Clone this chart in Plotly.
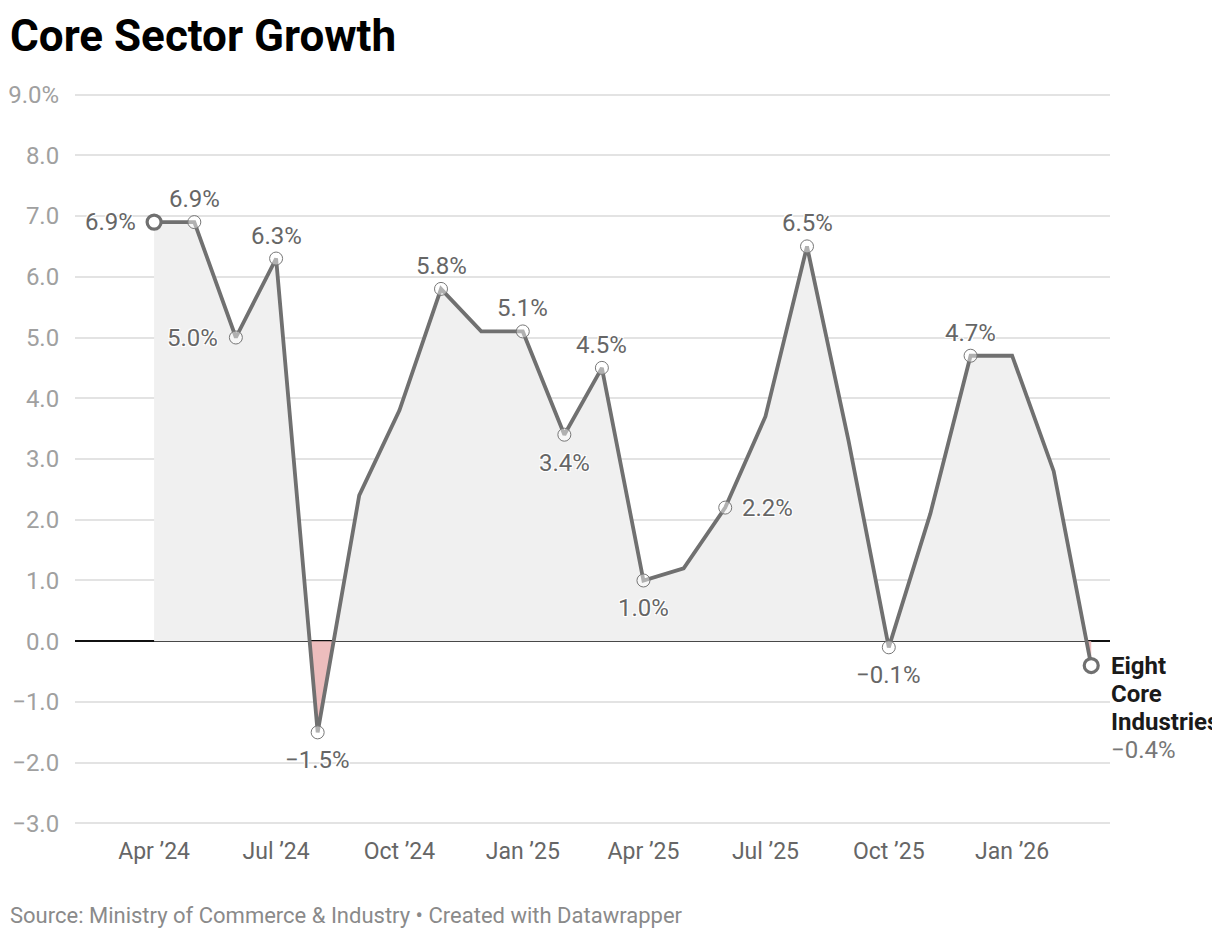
import numpy as np
import pandas as pd
import plotly.graph_objects as go

# ---------------- data ----------------
months = ["2024-04-01", "2024-05-01", "2024-06-01", "2024-07-01", "2024-08-01", "2024-09-01",
          "2024-10-01", "2024-11-01", "2024-12-01", "2025-01-01", "2025-02-01", "2025-03-01",
          "2025-04-01", "2025-05-01", "2025-06-01", "2025-07-01", "2025-08-01", "2025-09-01",
          "2025-10-01", "2025-11-01", "2025-12-01", "2026-01-01", "2026-02-01", "2026-03-01"]
growth = [6.9, 6.9, 5.0, 6.3, -1.5, 2.4,
          3.8, 5.8, 5.1, 5.1, 3.4, 4.5,
          1.0, 1.2, 2.2, 3.7, 6.5, 3.3,
          -0.1, 2.1, 4.7, 4.7, 2.8, -0.4]
# which points carry a value label, and where
label_side = ["left", "top", "left", "top", "bottom", None,
              None, "top", None, "top", "bottom", "top",
              "bottom", None, "right", None, "top", None,
              "bottom", None, "top", None, None, "end"]

series_name = "Eight Core Industries"
x_tick_vals = ["2024-04-01", "2024-07-01", "2024-10-01", "2025-01-01", "2025-04-01",
               "2025-07-01", "2025-10-01", "2026-01-01"]
x_tick_text = ["Apr ’24", "Jul ’24", "Oct ’24", "Jan ’25", "Apr ’25", "Jul ’25", "Oct ’25", "Jan ’26"]
y_tick_vals = [9, 8, 7, 6, 5, 4, 3, 2, 1, 0, -1, -2, -3]
y_tick_text = ["9.0%", "8.0", "7.0", "6.0", "5.0", "4.0", "3.0", "2.0", "1.0", "0.0",
               "−1.0", "−2.0", "−3.0"]

title = "Core Sector Growth"
footer = "Source: Ministry of Commerce &amp; Industry • Created with Datawrapper"

# ---------------- helpers ----------------
def fmt(v):
    s = f"{abs(v):.1f}%"
    return ("−" + s) if v < 0 else s

dates = pd.to_datetime(months)
ts = dates.astype("int64").to_numpy().astype(float)
vals = np.array(growth, dtype=float)

# insert zero crossings so positive / negative fills meet the line exactly
fx, fy = [ts[0]], [vals[0]]
for i in range(1, len(vals)):
    a, b = vals[i - 1], vals[i]
    if a * b < 0:
        t0 = ts[i - 1] + (ts[i] - ts[i - 1]) * (a / (a - b))
        fx.append(t0)
        fy.append(0.0)
    fx.append(ts[i])
    fy.append(b)
fx = pd.to_datetime(np.array(fx).astype("int64"))
fy = np.array(fy)

LINE = "#707070"
FONT = "Roboto"
W, H = 1212, 932
ML, MR, MT, MB = 67, 110, 84.5, 114.5
PW, PH = W - ML - MR, H - MT - MB
YPAD = 0.025

fig = go.Figure()
fig.add_trace(go.Scatter(x=fx, y=np.maximum(fy, 0), mode="lines", line=dict(width=0),
                         fill="tozeroy", fillcolor="#f0f0f0", hoverinfo="skip", showlegend=False))
fig.add_trace(go.Scatter(x=fx, y=np.minimum(fy, 0), mode="lines", line=dict(width=0),
                         fill="tozeroy", fillcolor="#edbdbd", hoverinfo="skip", showlegend=False))
fig.add_trace(go.Scatter(x=dates, y=vals, mode="lines", line=dict(color=LINE, width=3.8),
                         showlegend=False, name=series_name))

lab_idx = [i for i, s in enumerate(label_side) if s in ("left", "top", "bottom", "right")]
fig.add_trace(go.Scatter(x=[dates[i] for i in lab_idx[1:]], y=[vals[i] for i in lab_idx[1:]],
                         mode="markers", cliponaxis=False,
                         marker=dict(size=13, color="rgba(255,255,255,0.45)",
                                     line=dict(color="#777777", width=1)),
                         hoverinfo="skip", showlegend=False))
fig.add_trace(go.Scatter(x=[dates[0], dates[-1]], y=[vals[0], vals[-1]], mode="markers",
                         cliponaxis=False,
                         marker=dict(size=14, color="white", line=dict(color=LINE, width=3.2)),
                         hoverinfo="skip", showlegend=False))

halo = "white 1px 1px 0px, white -1px -1px 0px, white 1px -1px 0px, white -1px 1px 0px"
LBL = 24
anns = []
for i, side in enumerate(label_side):
    if side is None:
        continue
    base = dict(x=dates[i], y=vals[i], xref="x", yref="y", showarrow=False,
                font=dict(family=FONT, size=LBL, color="#666666", shadow=halo))
    if side == "top":
        base.update(text=fmt(vals[i]), xanchor="center", yanchor="middle", yshift=23)
        anns.append(base)
    elif side == "bottom":
        base.update(text=fmt(vals[i]), xanchor="center", yanchor="middle", yshift=-28)
        anns.append(base)
    elif side == "left":
        base.update(text=fmt(vals[i]), xanchor="right", yanchor="middle", xshift=-16)
        anns.append(base)
    elif side == "right":
        base.update(text=fmt(vals[i]), xanchor="left", yanchor="middle", xshift=15)
        anns.append(base)
    elif side == "end":
        lines = [f"<b>{w}</b>" for w in series_name.split(" ")] + [fmt(vals[i])]
        for k, ln in enumerate(lines):
            col = "#777777" if k == len(lines) - 1 else "#1a1a1a"
            anns.append(dict(x=dates[i], y=vals[i], xref="x", yref="y", showarrow=False,
                             text=ln, xanchor="left", yanchor="middle", xshift=18,
                             yshift=-28 * k,
                             font=dict(family=FONT, size=LBL, color=col, shadow=halo)))

anns.append(dict(text=f"<b>{title}</b>", xref="paper", yref="paper", x=(0 - ML) / PW,
                 y=1 + 57.5 / PH, xanchor="left", yanchor="middle", showarrow=False,
                 font=dict(family=FONT, size=44, color="#000000"), xshift=0))
anns.append(dict(text=footer, xref="paper", yref="paper", x=(0 - ML) / PW, y=-90.5 / PH,
                 xanchor="left", yanchor="middle", showarrow=False,
                 font=dict(family=FONT, size=22, color="#8a8a8a"), xshift=0))

fig.update_layout(
    width=W, height=H,
    margin=dict(l=ML, r=MR, t=MT, b=MB, autoexpand=False),
    paper_bgcolor="white", plot_bgcolor="white",
    font=dict(family=FONT),
    showlegend=False,
    annotations=anns,
    xaxis=dict(range=["2024-02-02", "2026-03-15"], tickvals=x_tick_vals, ticktext=x_tick_text,
               showgrid=False, zeroline=False, showline=False, automargin=False,
               ticks="outside", ticklen=5, tickcolor="rgba(0,0,0,0)",
               tickfont=dict(family=FONT, size=23, color="#666666")),
    yaxis=dict(range=[-3 - YPAD, 9 + YPAD], tickvals=y_tick_vals, ticktext=y_tick_text,
               showgrid=True, gridcolor="#e3e3e3", gridwidth=1.6, automargin=False,
               zeroline=True, zerolinecolor="#111111", zerolinewidth=1.6,
               showline=False, ticks="outside", ticklen=10, tickcolor="rgba(0,0,0,0)",
               tickfont=dict(family=FONT, size=LBL, color="#a0a0a0")),
)

fig.write_html("out.html")
